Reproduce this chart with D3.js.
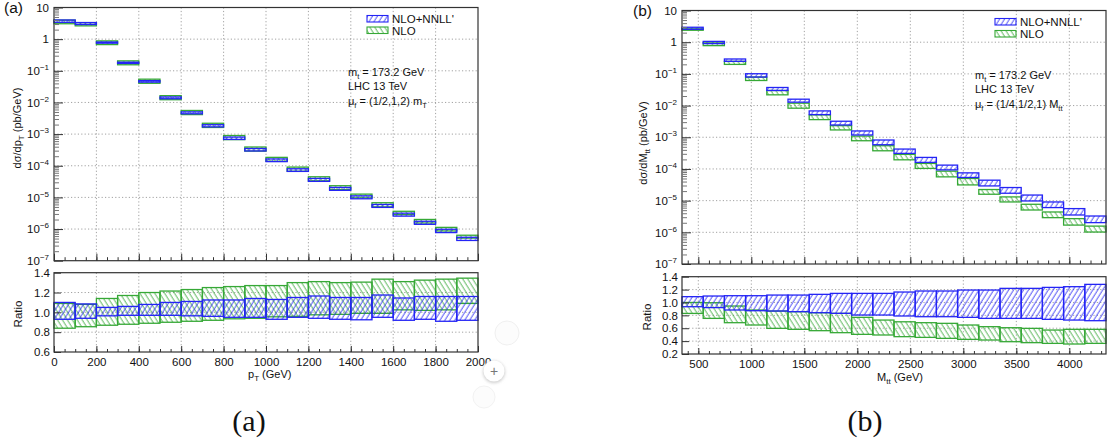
<!DOCTYPE html>
<html>
<head>
<meta charset="utf-8">
<script src="https://cdn.jsdelivr.net/npm/d3@7"></script>
<style>
  body { margin: 0; background: #fff; }
  svg { display: block; font-family: "Liberation Sans", Arial, sans-serif; }
</style>
</head>
<body>
<svg id="chart" width="1109" height="448"></svg>
<script>
// ---- data: panel (a), top-quark pT ----
const ptEdges = [0, 100, 200, 300, 400, 500, 600, 700, 800, 900, 1000,
  1100, 1200, 1300, 1400, 1500, 1600, 1700, 1800, 1900, 2000];
const ptNnllLo = [3.40, 2.90, 0.746, 0.171, 0.0439, 0.0131, 0.00438, 0.00169, 6.80e-4, 2.93e-4,
  1.35e-4, 6.63e-5, 3.21e-5, 1.67e-5, 9.04e-6, 4.83e-6, 2.56e-6, 1.41e-6, 7.73e-7, 4.36e-7];
const ptNnllHi = [4.03, 3.34, 0.812, 0.187, 0.0489, 0.0149, 0.00504, 0.00198, 8.06e-4, 3.51e-4,
  1.64e-4, 8.03e-5, 3.98e-5, 2.07e-5, 1.12e-5, 5.97e-6, 3.18e-6, 1.76e-6, 9.85e-7, 5.50e-7];
const ptNloLo = [3.07, 2.63, 0.673, 0.155, 0.0403, 0.0122, 0.00413, 0.00162, 6.69e-4, 2.90e-4,
  1.38e-4, 6.70e-5, 3.33e-5, 1.76e-5, 9.67e-6, 5.03e-6, 2.85e-6, 1.55e-6, 8.70e-7, 5.17e-7];
const ptNloHi = [3.99, 3.33, 0.881, 0.206, 0.0544, 0.0164, 0.00558, 0.00220, 9.02e-4, 3.91e-4,
  1.84e-4, 9.07e-5, 4.48e-5, 2.34e-5, 1.27e-5, 6.78e-6, 3.64e-6, 2.01e-6, 1.13e-6, 6.38e-7];
const ptNnllRatioLo = [0.93, 0.94, 0.965, 0.97, 0.97, 0.97, 0.965, 0.96, 0.95, 0.95,
  0.93, 0.95, 0.94, 0.93, 0.925, 0.95, 0.92, 0.93, 0.91, 0.92];
const ptNnllRatioHi = [1.10, 1.085, 1.05, 1.06, 1.08, 1.10, 1.11, 1.125, 1.125, 1.14,
  1.13, 1.15, 1.165, 1.15, 1.15, 1.175, 1.145, 1.16, 1.16, 1.16];
const ptNloRatioLo = [0.84, 0.855, 0.87, 0.88, 0.89, 0.90, 0.91, 0.92, 0.935, 0.94,
  0.955, 0.96, 0.975, 0.98, 0.99, 0.99, 1.025, 1.02, 1.025, 1.09];
const ptNloRatioHi = [1.09, 1.08, 1.14, 1.17, 1.20, 1.215, 1.23, 1.25, 1.26, 1.27,
  1.27, 1.30, 1.31, 1.30, 1.305, 1.335, 1.31, 1.325, 1.335, 1.345];
const ptTicks = [0, 200, 400, 600, 800, 1000, 1200, 1400, 1600, 1800, 2000];

// ---- data: panel (b), invariant mass M_tt ----
const mttEdges = [346, 546, 746, 946, 1146, 1346, 1546, 1746, 1946, 2146, 2346,
  2546, 2746, 2946, 3146, 3346, 3546, 3746, 3946, 4146, 4346];
const mttNnllLo = [2.55, 0.90, 0.248, 0.0793, 0.0299, 0.0128, 0.00518, 0.00244, 0.00118, 5.81e-4,
  3.10e-4, 1.61e-4, 9.35e-5, 5.38e-5, 2.91e-5, 1.71e-5, 9.75e-6, 6.03e-6, 3.52e-6, 2.02e-6];
const mttNnllHi = [2.96, 1.06, 0.295, 0.101, 0.0372, 0.0159, 0.00678, 0.00320, 0.00158, 8.18e-4,
  4.24e-4, 2.31e-4, 1.32e-4, 7.52e-5, 4.42e-5, 2.59e-5, 1.50e-5, 9.08e-6, 5.60e-6, 3.27e-6];
const mttNloLo = [2.38, 0.778, 0.199, 0.0618, 0.0218, 0.00826, 0.00360, 0.00170, 7.76e-4, 3.74e-4,
  1.94e-4, 1.04e-4, 5.62e-5, 3.13e-5, 1.59e-5, 9.08e-6, 5.06e-6, 2.90e-6, 1.69e-6, 1.02e-6];
const mttNloHi = [2.63, 0.948, 0.248, 0.0793, 0.0299, 0.0119, 0.00507, 0.00232, 0.00109, 5.40e-4,
  2.88e-4, 1.49e-4, 8.51e-5, 5.00e-5, 2.24e-5, 1.31e-5, 7.67e-6, 4.38e-6, 2.70e-6, 1.57e-6];
const mttNnllRatioLo = [0.934, 0.92, 0.883, 0.872, 0.867, 0.857, 0.841, 0.831, 0.805, 0.805,
  0.79, 0.779, 0.779, 0.769, 0.753, 0.753, 0.753, 0.738, 0.727, 0.717];
const mttNnllRatioHi = [1.09, 1.10, 1.105, 1.105, 1.115, 1.115, 1.126, 1.141, 1.141, 1.141,
  1.162, 1.178, 1.178, 1.193, 1.193, 1.219, 1.219, 1.234, 1.245, 1.281];
const mttNloRatioLo = [0.83, 0.753, 0.686, 0.65, 0.598, 0.583, 0.562, 0.531, 0.505, 0.495,
  0.469, 0.458, 0.443, 0.427, 0.417, 0.391, 0.376, 0.365, 0.355, 0.365];
const mttNloRatioHi = [1.0, 0.996, 0.945, 0.883, 0.867, 0.857, 0.841, 0.831, 0.769, 0.727,
  0.70, 0.686, 0.676, 0.65, 0.624, 0.608, 0.598, 0.572, 0.583, 0.583];
const mttTicks = [500, 1000, 1500, 2000, 2500, 3000, 3500, 4000];

const logTicks = [10, 1, 1e-1, 1e-2, 1e-3, 1e-4, 1e-5, 1e-6, 1e-7];

const BLUE = "#2424f5";
const GREEN = "#36a836";

const svg = d3.select("#chart");
const defs = svg.append("defs");

// hatch patterns: "////" for blue, "\\\\" for green
function hatch(id, color, angle) {
  const p = defs.append("pattern")
    .attr("id", id)
    .attr("patternUnits", "userSpaceOnUse")
    .attr("width", 4.2).attr("height", 10)
    .attr("patternTransform", `rotate(${angle})`);
  p.append("line")
    .attr("x1", 1).attr("y1", 0).attr("x2", 1).attr("y2", 10)
    .attr("stroke", color).attr("stroke-width", 0.9).attr("stroke-opacity", 0.85);
}
hatch("hBlue", BLUE, 32);
hatch("hGreen", GREEN, -32);

// soft shadow for the overlay button
const sh = defs.append("filter").attr("id", "soft").attr("x", "-50%").attr("y", "-50%")
  .attr("width", "200%").attr("height", "200%");
sh.append("feGaussianBlur").attr("stdDeviation", 1.5);

function drawPanel(p) {
  const x = d3.scaleLinear().domain(p.xDomain).range([p.left, p.right]);
  const y = d3.scaleLog().domain([1e-7, 10]).range([p.topBottom, p.topTop]);
  const yr = d3.scaleLinear().domain(p.rDomain).range([p.rBottom, p.rTop]);
  const g = svg.append("g");

  // grid
  const grid = g.append("g").attr("stroke", "#8a8a8a").attr("stroke-width", 0.8)
    .attr("stroke-dasharray", "1.2,2.2");
  p.xTicks.filter(d => x(d) > p.left + 1 && x(d) < p.right - 1).forEach(d => {
    grid.append("line").attr("x1", x(d)).attr("x2", x(d)).attr("y1", p.topTop).attr("y2", p.topBottom);
    grid.append("line").attr("x1", x(d)).attr("x2", x(d)).attr("y1", p.rTop).attr("y2", p.rBottom);
  });
  logTicks.slice(1, -1).forEach(d => {
    grid.append("line").attr("x1", p.left).attr("x2", p.right).attr("y1", y(d)).attr("y2", y(d));
  });
  p.rTicks.slice(1, -1).forEach(d => {
    grid.append("line").attr("x1", p.left).attr("x2", p.right).attr("y1", yr(d)).attr("y2", yr(d));
  });

  // boxes
  function boxes(sc, lo, hi, color, pat) {
    g.append("g").selectAll("rect").data(lo).join("rect")
      .attr("x", (d, i) => x(p.edges[i]))
      .attr("width", (d, i) => x(p.edges[i + 1]) - x(p.edges[i]))
      .attr("y", (d, i) => sc(hi[i]))
      .attr("height", (d, i) => sc(lo[i]) - sc(hi[i]))
      .attr("fill", `url(#${pat})`)
      .attr("stroke", color).attr("stroke-width", 1.3);
  }
  boxes(y, p.nloLo, p.nloHi, GREEN, "hGreen");
  boxes(y, p.nnllLo, p.nnllHi, BLUE, "hBlue");
  boxes(yr, p.nloRLo, p.nloRHi, GREEN, "hGreen");
  boxes(yr, p.nnllRLo, p.nnllRHi, BLUE, "hBlue");

  // frames
  g.append("rect").attr("x", p.left).attr("y", p.topTop)
    .attr("width", p.right - p.left).attr("height", p.topBottom - p.topTop)
    .attr("fill", "none").attr("stroke", "#333").attr("stroke-width", 1.2);
  g.append("rect").attr("x", p.left).attr("y", p.rTop)
    .attr("width", p.right - p.left).attr("height", p.rBottom - p.rTop)
    .attr("fill", "none").attr("stroke", "#333").attr("stroke-width", 1.2);

  const noDomain = s => s.select(".domain").remove();

  // log y axis: minor then major ticks
  const minor = [];
  for (let e = -7; e < 1; e++) for (let k = 2; k <= 9; k++) minor.push(k * Math.pow(10, e));
  g.append("g").attr("transform", `translate(${p.left},0)`)
    .call(d3.axisLeft(y).tickValues(minor).tickSize(-5).tickFormat(""))
    .call(noDomain).selectAll("line").attr("stroke", "#777");
  const ya = g.append("g").attr("transform", `translate(${p.left},0)`)
    .call(d3.axisLeft(y).tickValues(logTicks).tickSize(-9).tickPadding(5).tickFormat(""))
    .call(noDomain);
  ya.selectAll("line").attr("stroke", "#333");
  ya.selectAll(".tick text").attr("font-size", 11.5).attr("fill", "#111").each(function (d) {
    const e = Math.round(Math.log10(d));
    const t = d3.select(this);
    if (e === 1) t.text("10");
    else if (e === 0) t.text("1");
    else {
      t.text("10");
      t.append("tspan").attr("dy", -5).attr("font-size", 8).text("\u2212" + (-e));
    }
  });

  // x ticks at bottom of top plot (inside)
  g.append("g").attr("transform", `translate(0,${p.topBottom})`)
    .call(d3.axisBottom(x).tickValues(p.xMinor).tickSize(-3.5).tickFormat(""))
    .call(noDomain).selectAll("line").attr("stroke", "#333");
  g.append("g").attr("transform", `translate(0,${p.topBottom})`)
    .call(d3.axisBottom(x).tickValues(p.xTicks).tickSize(-7).tickFormat(""))
    .call(noDomain).selectAll("line").attr("stroke", "#333");

  // ratio axes
  const ra = g.append("g").attr("transform", `translate(${p.left},0)`)
    .call(d3.axisLeft(yr).tickValues(p.rTicks).tickSize(-7).tickPadding(4).tickFormat(d3.format(".1f")))
    .call(noDomain);
  ra.selectAll("line").attr("stroke", "#333");
  ra.selectAll("text").attr("font-size", 11.5).attr("fill", "#111");

  g.append("g").attr("transform", `translate(0,${p.rBottom})`)
    .call(d3.axisBottom(x).tickValues(p.xMinor).tickSize(-3).tickFormat(""))
    .call(noDomain).selectAll("line").attr("stroke", "#333");
  const xa = g.append("g").attr("transform", `translate(0,${p.rBottom})`)
    .call(d3.axisBottom(x).tickValues(p.xTicks).tickSize(-6).tickPadding(6).tickFormat(d3.format("d")))
    .call(noDomain);
  xa.selectAll("line").attr("stroke", "#333");
  xa.selectAll("text").attr("font-size", 11.5).attr("fill", "#111");

  // axis titles
  const yt = g.append("text")
    .attr("transform", `translate(${p.yTitleX},${p.yTitleY}) rotate(-90)`)
    .attr("text-anchor", "middle").attr("font-size", 11).attr("fill", "#111");
  yt.append("tspan").text("d\u03c3/d" + p.yVar);
  yt.append("tspan").attr("dy", 3).attr("font-size", 8).text(p.ySub);
  yt.append("tspan").attr("dy", -3).text("  (pb/GeV)");

  g.append("text")
    .attr("transform", `translate(${p.yTitleX + p.ratioTitleDx},${p.ratioTitleY}) rotate(-90)`)
    .attr("text-anchor", "middle").attr("font-size", 11.5).attr("fill", "#111").text("Ratio");

  const xt = g.append("text").attr("x", p.xTitleX).attr("y", p.xTitleY)
    .attr("font-size", 11).attr("fill", "#111");
  xt.append("tspan").text(p.xVar);
  xt.append("tspan").attr("dy", 3).attr("font-size", 8).text(p.xSub);
  xt.append("tspan").attr("dy", -3).text(" (GeV)");

  // legend
  const lg = g.append("g").attr("font-size", 11.5).attr("fill", "#111");
  [["NLO+NNLL'", BLUE, "hBlue"], ["NLO", GREEN, "hGreen"]].forEach((it, i) => {
    const yy = p.legY + i * p.legStep;
    lg.append("rect").attr("x", p.legX).attr("y", yy).attr("width", 21).attr("height", 6.5)
      .attr("fill", `url(#${it[2]})`).attr("stroke", it[1]).attr("stroke-width", 1.1);
    lg.append("text").attr("x", p.legX + 25).attr("y", yy + 7.5).text(it[0]);
  });

  // annotation
  const an = g.append("g").attr("font-size", 11).attr("fill", "#111");
  const a1 = an.append("text").attr("x", p.annX).attr("y", p.annY);
  a1.append("tspan").text("m");
  a1.append("tspan").attr("dy", 3).attr("font-size", 7.5).text("t");
  a1.append("tspan").attr("dy", -3).text(" = 173.2 GeV");
  an.append("text").attr("x", p.annX).attr("y", p.annY + 14).text("LHC 13 TeV");
  const a3 = an.append("text").attr("x", p.annX).attr("y", p.annY + 28.5);
  a3.append("tspan").text("\u03bc");
  a3.append("tspan").attr("dy", 3).attr("font-size", 7.5).text("f");
  a3.append("tspan").attr("dy", -3).text(" =  " + p.scaleText + " " + p.scaleVar);
  a3.append("tspan").attr("dy", 3).attr("font-size", 7.5).text(p.scaleSub);

  // panel tag and caption
  svg.append("text").attr("x", p.tagX).attr("y", p.tagY).attr("font-size", 15.5)
    .attr("fill", "#111").text(p.tag);
  svg.append("text").attr("x", p.capX).attr("y", 431).attr("text-anchor", "middle")
    .attr("font-family", "'Liberation Serif', 'DejaVu Serif', serif").attr("font-size", 30)
    .attr("fill", "#111").text(p.tag);
}

drawPanel({
  tag: "(a)", tagX: 4, tagY: 13, capX: 249,
  xDomain: [0, 2000], left: 54, right: 478,
  topTop: 7.5, topBottom: 260.7, rTop: 272.7, rBottom: 352, rDomain: [0.6, 1.4],
  rTicks: [0.6, 0.8, 1.0, 1.2, 1.4],
  xTicks: ptTicks, xMinor: d3.range(0, 2001, 50),
  edges: ptEdges,
  nnllLo: ptNnllLo, nnllHi: ptNnllHi, nloLo: ptNloLo, nloHi: ptNloHi,
  nnllRLo: ptNnllRatioLo, nnllRHi: ptNnllRatioHi, nloRLo: ptNloRatioLo, nloRHi: ptNloRatioHi,
  yVar: "p", ySub: "T", yTitleX: 21, yTitleY: 128, ratioTitleDx: 1, ratioTitleY: 314,
  xVar: "p", xSub: "T", xTitleX: 248, xTitleY: 378,
  legX: 367, legY: 15.5, legStep: 11.5,
  annX: 348, annY: 76, scaleText: "(1/2,1,2)", scaleVar: "m", scaleSub: "T"
});

drawPanel({
  tag: "(b)", tagX: 633, tagY: 16, capX: 865,
  xDomain: [346, 4346], left: 682, right: 1106,
  topTop: 10.5, topBottom: 264, rTop: 276.7, rBottom: 354, rDomain: [0.2, 1.4],
  rTicks: [0.2, 0.4, 0.6, 0.8, 1.0, 1.2, 1.4],
  xTicks: mttTicks, xMinor: d3.range(400, 4301, 100),
  edges: mttEdges,
  nnllLo: mttNnllLo, nnllHi: mttNnllHi, nloLo: mttNloLo, nloHi: mttNloHi,
  nnllRLo: mttNnllRatioLo, nnllRHi: mttNnllRatioHi, nloRLo: mttNloRatioLo, nloRHi: mttNloRatioHi,
  yVar: "M", ySub: "tt", yTitleX: 647, yTitleY: 143, ratioTitleDx: 4, ratioTitleY: 317,
  xVar: "M", xSub: "tt", xTitleX: 877, xTitleY: 381,
  legX: 995, legY: 18.5, legStep: 12,
  annX: 975, annY: 79, scaleText: "(1/4,1/2,1)", scaleVar: "M", scaleSub: "tt"
});

// screenshot overlay: zoom button in the lower right of panel (a)
const ov = svg.append("g");
ov.append("circle").attr("cx", 507).attr("cy", 333).attr("r", 12).attr("fill", "#fcfcfc")
  .attr("stroke", "#f0f0f0");
ov.append("circle").attr("cx", 484).attr("cy", 397).attr("r", 11).attr("fill", "#fcfcfc")
  .attr("stroke", "#f2f2f2");
ov.append("circle").attr("cx", 494).attr("cy", 372).attr("r", 11).attr("fill", "#cfcfcf")
  .attr("filter", "url(#soft)");
ov.append("circle").attr("cx", 494).attr("cy", 371).attr("r", 10.5).attr("fill", "#fff");
ov.append("text").attr("x", 494).attr("y", 375.5).attr("text-anchor", "middle")
  .attr("font-size", 14).attr("fill", "#777").text("+");
</script>
</body>
</html>
